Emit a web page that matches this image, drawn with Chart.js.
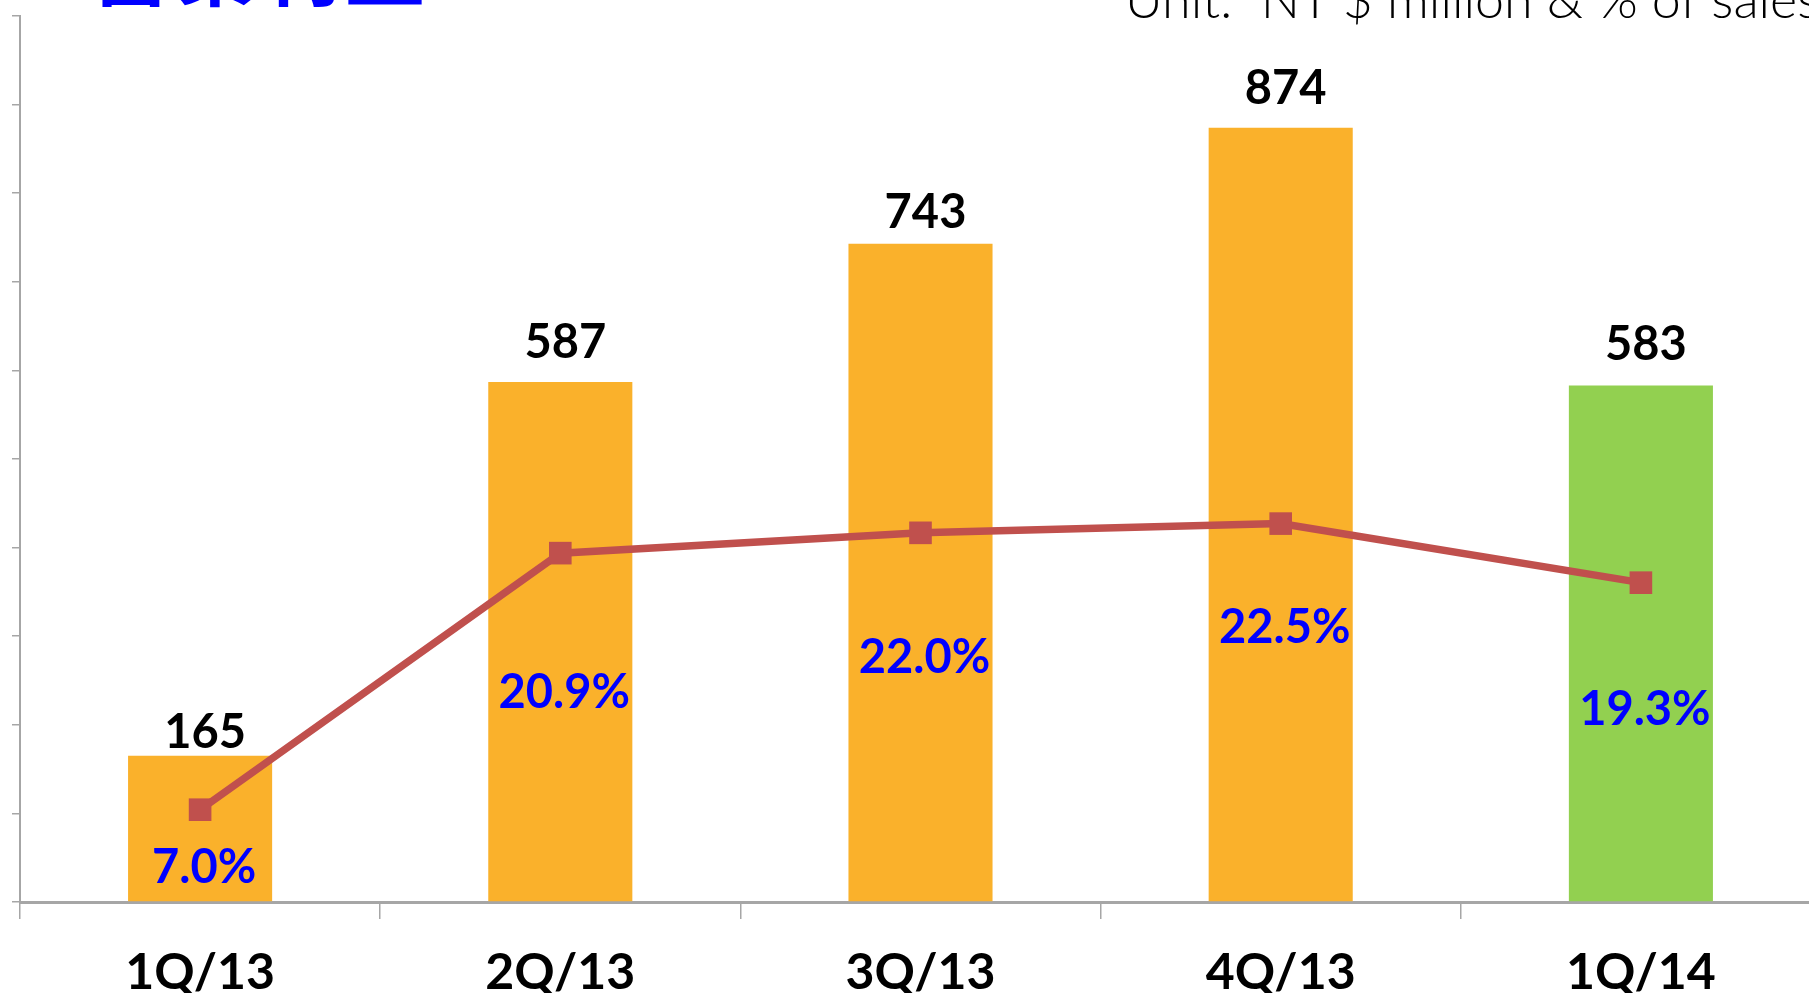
<!DOCTYPE html>
<html lang="zh-Hant">
<head>
  <meta charset="UTF-8" />
  <title>營業利益</title>
  <script src="https://cdn.jsdelivr.net/npm/chart.js"></script>
  <style>
    html, body { margin: 0; padding: 0; background: #fff; overflow: hidden; }
    .page { position: relative; width: 1809px; height: 993px; overflow: hidden; }
    .chart-box { position: absolute; left: 0; top: 0; width: 1837px; height: 1027px; }
    .title {
      position: absolute; left: 90px; top: -76px;
      font: bold 80px "Noto Sans CJK TC"; line-height: 1;
      color: #0000ff; white-space: nowrap; letter-spacing: 5px;
    }
    .unit {
      position: absolute; left: 1125px; top: -28px;
      font: 300 52px Lato; line-height: 1;
      color: #000; white-space: nowrap;
    }
  </style>
</head>
<body>
  <div class="page">
    <div class="chart-box"><canvas id="chart"></canvas></div>
    <div class="title">營業利益</div>
    <div class="unit">Unit:&nbsp; NT $ million &amp; % of sales</div>
  </div>

  <script>
    // data
    const quarters = ['1Q/13', '2Q/13', '3Q/13', '4Q/13', '1Q/14'];
    const profit = [165, 587, 743, 874, 583];
    const marginPct = [7.0, 20.9, 22.0, 22.5, 19.3];

    // style
    const barColors = ['#FAB12B', '#FAB12B', '#FAB12B', '#FAB12B', '#92D050'];
    const lineColor = '#C0504D';
    const axisGray = '#A6A6A6';
    // label offsets (px) as placed in the original slide
    const valueLabelDy = [25, 41, 33, 41, 42];
    const pctLabelDy = [56, 138, 123, 102, 125];

    const labelPlugin = {
      id: 'labels',
      afterDatasetsDraw(chart) {
        const ctx = chart.ctx;
        const bars = chart.getDatasetMeta(1).data;
        const pts = chart.getDatasetMeta(0).data;
        ctx.save();
        ctx.textAlign = 'center';
        ctx.textBaseline = 'alphabetic';
        ctx.font = 'bold 47px Lato';
        bars.forEach((bar, i) => {
          ctx.fillStyle = '#000';
          ctx.fillText(String(profit[i]), bar.x + 5, bar.y - valueLabelDy[i] + 17);
        });
        pts.forEach((pt, i) => {
          ctx.fillStyle = '#0000FF';
          ctx.fillText(marginPct[i].toFixed(1) + '%', pt.x + 4, pt.y + pctLabelDy[i] + 17);
        });
        ctx.restore();
      }
    };

    new Chart(document.getElementById('chart'), {
      data: {
        labels: quarters,
        datasets: [
          {
            type: 'line',
            data: marginPct,
            yAxisID: 'y2',
            order: 0,
            borderColor: lineColor,
            backgroundColor: lineColor,
            borderWidth: 7.5,
            pointStyle: 'rect',
            pointRadius: 16,
            pointBackgroundColor: lineColor,
            pointBorderWidth: 0,
            tension: 0
          },
          {
            type: 'bar',
            data: profit,
            yAxisID: 'y',
            order: 1,
            backgroundColor: barColors,
            barPercentage: 0.4,
            categoryPercentage: 1.0
          }
        ]
      },
      options: {
        responsive: true,
        maintainAspectRatio: false,
        animation: false,
        layout: { padding: { left: 12, top: 8, right: 8, bottom: 0 } },
        plugins: {
          legend: { display: false },
          tooltip: { enabled: false }
        },
        scales: {
          x: {
            grid: {
              offset: true,
              drawOnChartArea: false,
              tickLength: 17,
              color: axisGray,
              lineWidth: 1.5
            },
            border: { color: axisGray, width: 3 },
            ticks: {
              color: '#000',
              font: { family: 'Lato', weight: 'bold', size: 50 },
              padding: 24
            }
          },
          y: {
            min: 0,
            max: 1000,
            ticks: { stepSize: 100, display: false },
            grid: { drawOnChartArea: false, tickLength: 8, color: axisGray, lineWidth: 1.5 },
            border: { color: axisGray, width: 2 }
          },
          y2: { display: false, min: 2, max: 50 }
        }
      },
      plugins: [labelPlugin]
    });
  </script>
</body>
</html>
